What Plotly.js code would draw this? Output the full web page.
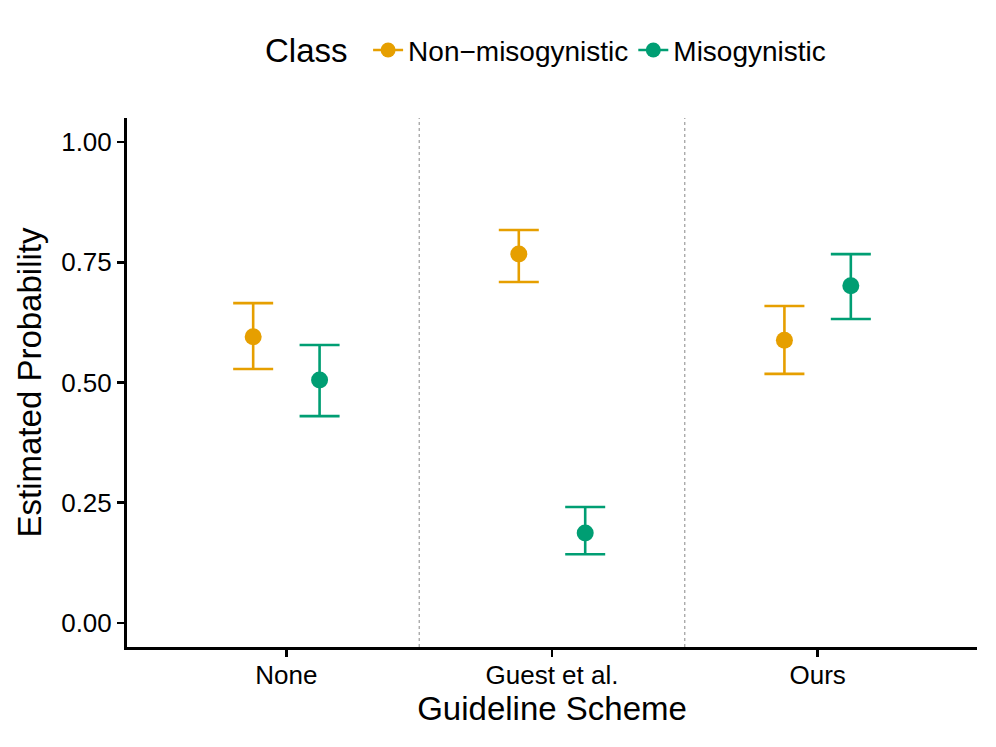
<!DOCTYPE html>
<html>
<head>
<meta charset="utf-8">
<script src="https://cdn.plot.ly/plotly-3.0.1.min.js"></script>
<style>html,body{margin:0;padding:0;background:#fff;}#chart{width:996px;height:747px;}</style>
</head>
<body>
<div id="chart"></div>
<script>
const categories = ["None", "Guest et al.", "Ours"];
const classes = ["Non\u2212misogynistic", "Misogynistic"];
const legendTitle = "Class";
const colors = ["#E69F00", "#009E73"];
const nonMisogEst = [0.595, 0.767, 0.588];
const nonMisogLow = [0.528, 0.709, 0.518];
const nonMisogHigh = [0.665, 0.817, 0.659];
const misogEst = [0.505, 0.187, 0.701];
const misogLow = [0.430, 0.143, 0.632];
const misogHigh = [0.578, 0.241, 0.767];
const yTicks = [0, 0.25, 0.5, 0.75, 1.0];
const yTickLabels = ["0.00", "0.25", "0.50", "0.75", "1.00"];

const series = [
  {est: nonMisogEst, low: nonMisogLow, high: nonMisogHigh},
  {est: misogEst, low: misogLow, high: misogHigh}
];
const dodge = 0.125;
const basePos = categories.map((c, i) => i + 1);

const traces = series.map((s, k) => ({
  type: 'scatter',
  mode: 'markers',
  name: classes[k],
  legendgroup: 'g' + k,
  showlegend: false,
  x: basePos.map(p => p + (k === 0 ? -dodge : dodge)),
  y: s.est,
  marker: {color: colors[k], size: 17},
  error_y: {
    type: 'data', symmetric: false,
    array: s.high.map((h, i) => h - s.est[i]),
    arrayminus: s.est.map((e, i) => e - s.low[i]),
    color: colors[k], thickness: 2.6, width: 20
  },
  hoverinfo: 'x+y'
}));

const legendTraces = classes.map((name, k) => ({
  type: 'scatter',
  mode: 'lines+markers',
  name: name,
  legendgroup: 'g' + k,
  x: [null], y: [null],
  marker: {color: colors[k], size: 15},
  line: {color: colors[k], width: 2.6}
}));

const shapes = basePos.slice(0, -1).map(p => ({
  type: 'line', xref: 'x', yref: 'paper',
  x0: p + 0.5, x1: p + 0.5, y0: 0, y1: 1,
  line: {color: '#888', width: 1, dash: 'dot'},
  layer: 'below'
}));

const layout = {
  width: 996, height: 747,
  margin: {l: 127, r: 19, t: 118, b: 100},
  paper_bgcolor: '#fff', plot_bgcolor: '#fff',
  font: {family: 'Liberation Sans, Arial, sans-serif', color: '#000'},
  showlegend: true,
  legend: {
    orientation: 'h', x: 0.556, xanchor: 'center', y: 1.128, yanchor: 'middle',
    font: {size: 28}, itemwidth: 30, tracegroupgap: 0
  },
  annotations: [{
    text: legendTitle, xref: 'paper', yref: 'paper',
    x: 0.160, xanchor: 'left', y: 1.1285, yanchor: 'middle',
    showarrow: false, font: {size: 33}
  }],
  xaxis: {
    range: [0.4, 3.6],
    tickvals: basePos, ticktext: categories,
    showgrid: false, zeroline: false,
    showline: true, linecolor: '#000', linewidth: 3,
    ticks: 'outside', ticklen: 7, tickwidth: 2.5, tickcolor: '#000',
    tickfont: {size: 26, color: '#000'},
    ticklabelstandoff: -4,
    title: {text: 'Guideline Scheme', font: {size: 33}, standoff: 6}
  },
  yaxis: {
    range: [-0.05, 1.05],
    tickvals: yTicks, ticktext: yTickLabels,
    showgrid: false, zeroline: false,
    showline: true, linecolor: '#000', linewidth: 3,
    ticks: 'outside', ticklen: 7, tickwidth: 2.5, tickcolor: '#000',
    tickfont: {size: 26, color: '#000'},
    title: {text: 'Estimated Probability', font: {size: 33}, standoff: 10}
  },
  shapes: shapes
};

Plotly.newPlot('chart', legendTraces.concat(traces), layout, {displayModeBar: false, staticPlot: true});
</script>
</body>
</html>
